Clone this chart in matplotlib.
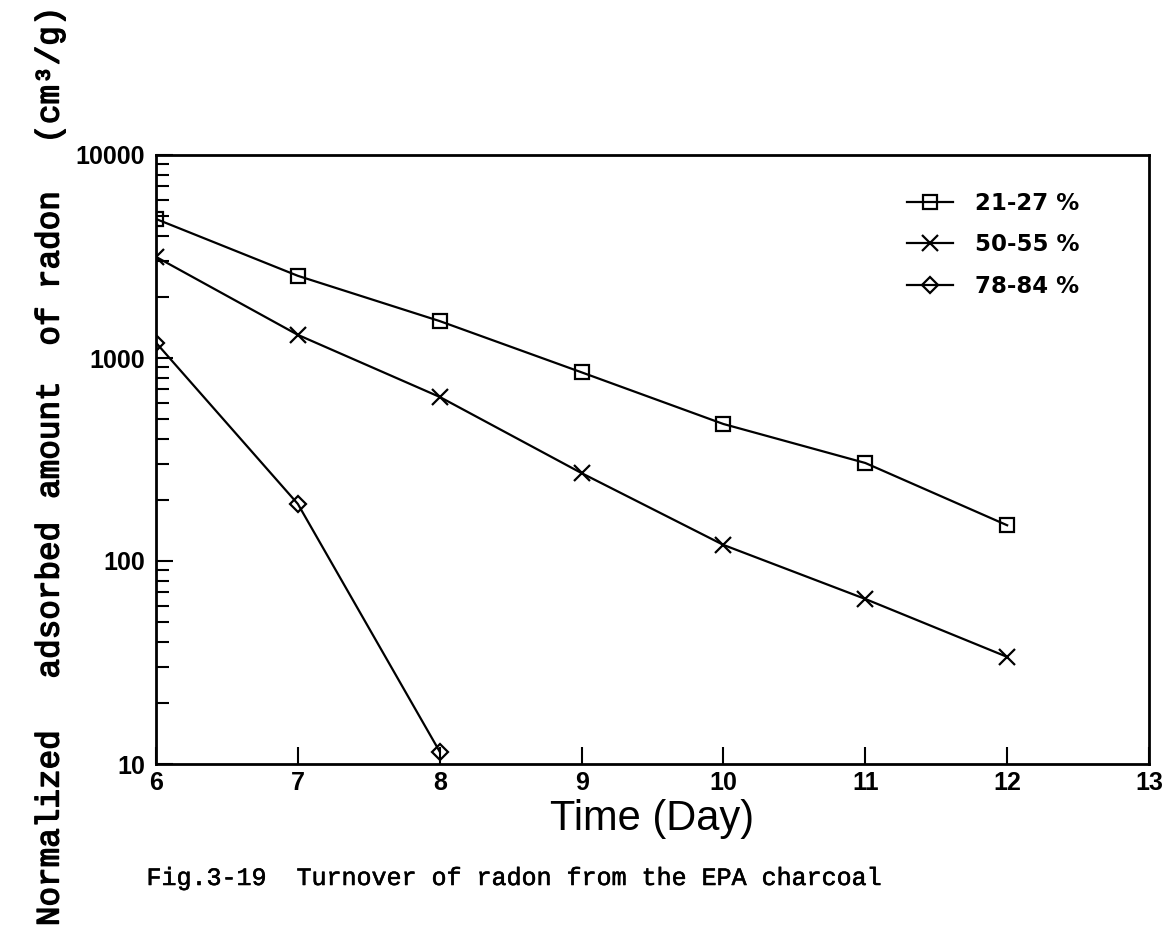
import matplotlib
matplotlib.use("Agg")
import matplotlib.pyplot as plt
import matplotlib.patheffects as pe
from matplotlib.font_manager import FontProperties
from matplotlib.ticker import LogLocator, FixedLocator, NullFormatter, FixedFormatter

# Days after exposure
days_a = [6, 7, 8, 9, 10, 11, 12]
days_b = [6, 7, 8, 9, 10, 11, 12]
days_c = [6, 7, 8]

# Normalized adsorbed radon (cm^3/g) for three humidity ranges
rh_21_27 = [4840, 2540, 1520, 850, 473, 304, 150]
rh_50_55 = [3150, 1300, 643, 271, 120, 65, 33.7]
rh_78_84 = [1190, 191, 11.5]

labels = ["21-27 %", "50-55 %", "78-84 %"]
x_ticks = [6, 7, 8, 9, 10, 11, 12, 13]
y_ticks = [10, 100, 1000, 10000]
y_tick_labels = ["10", "100", "1000", "10000"]

# Words of the vertical axis title with their vertical centres (figure pixels)
ylabel_words = ["Normalized", "adsorbed", "amount", "of", "radon", "(cm\u00b3/g)"]
ylabel_centres = [828, 600, 440, 326, 240, 75]

W, H = 1173, 936
fig = plt.figure(figsize=(W / 100, H / 100), dpi=100)
ax = fig.add_axes([156 / W, 1 - 764 / H, (1149 - 156) / W, (764 - 155) / H])

line_kw = dict(color="black", linewidth=1.6, markeredgecolor="black",
               markerfacecolor="none", markeredgewidth=1.6)
ax.plot(days_a, rh_21_27, marker="s", markersize=10.5, label=labels[0], **line_kw)
ax.plot(days_b, rh_50_55, marker="x", markersize=12, label=labels[1], **line_kw)
ax.plot(days_c, rh_78_84, marker="D", markersize=8.5, label=labels[2], **line_kw)

ax.set_yscale("log")
ax.set_xlim(6, 13)
ax.set_ylim(10, 10000)

ax.xaxis.set_major_locator(FixedLocator(x_ticks))
ax.yaxis.set_major_locator(FixedLocator(y_ticks))
ax.yaxis.set_major_formatter(FixedFormatter(y_tick_labels))
ax.yaxis.set_minor_locator(LogLocator(base=10, subs=range(2, 10)))
ax.yaxis.set_minor_formatter(NullFormatter())

tick_font = FontProperties(family="Liberation Sans", weight="bold", size=18)
for lab in ax.get_xticklabels() + ax.get_yticklabels():
    lab.set_fontproperties(tick_font)

ax.tick_params(axis="x", which="major", direction="in", length=12, width=1.5,
               top=False, pad=5)
ax.tick_params(axis="y", which="major", direction="in", length=12, width=1.5,
               right=False, pad=8)
ax.tick_params(axis="y", which="minor", direction="in", length=9, width=1.5,
               right=False)

for sp in ax.spines.values():
    sp.set_linewidth(2.0)

ax.set_xlabel("Time (Day)", fontfamily="Liberation Sans", fontsize=30, labelpad=3)

ax.legend(loc="upper left", bbox_to_anchor=((907 - 156) / 993, 1 - (192 - 155) / 609),
          frameon=False, handlelength=2.0, handletextpad=0.95, labelspacing=0.8,
          borderaxespad=0, borderpad=0,
          prop=dict(family="DejaVu Sans", weight="bold", size=16.5))

# Typewriter-style title, thickened with a thin stroke
heavy = [pe.withStroke(linewidth=1.0, foreground="black")]
for word, yc in zip(ylabel_words, ylabel_centres):
    fig.text(50 / W, 1 - yc / H, word, rotation=90, ha="center", va="center",
             fontfamily="Liberation Mono", fontsize=23.5, path_effects=heavy)

fig.text(514 / W, 1 - 878 / H,
         "Fig.3-19  Turnover of radon from the EPA charcoal",
         ha="center", va="center", fontfamily="Liberation Mono", fontsize=18,
         path_effects=[pe.withStroke(linewidth=0.4, foreground="black")])

fig.savefig("out.png", dpi=100)
